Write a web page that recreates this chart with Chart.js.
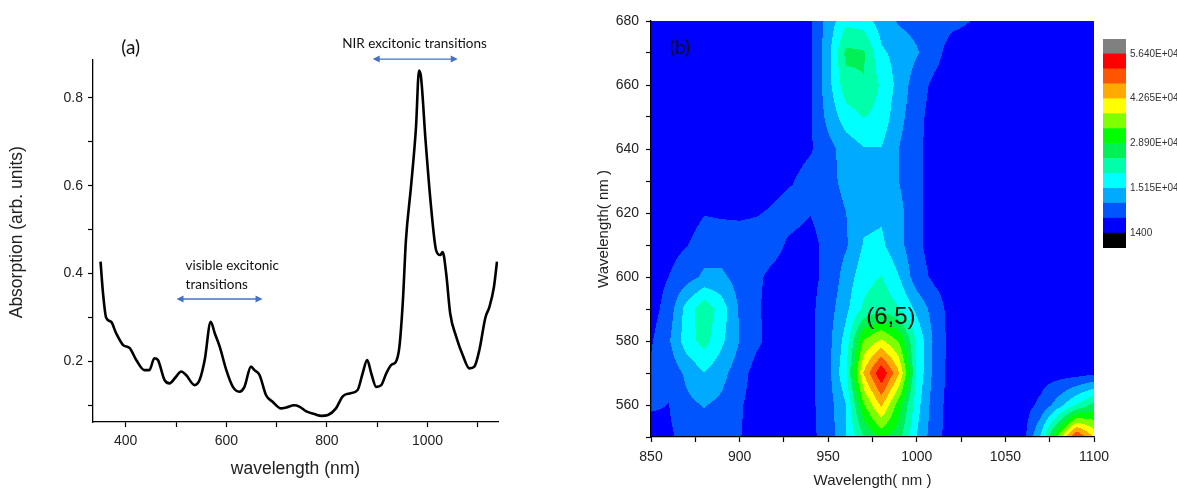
<!DOCTYPE html>
<html>
<head>
<meta charset="utf-8">
<script src="https://cdn.jsdelivr.net/npm/chart.js@4.4.1/dist/chart.umd.min.js"></script>
<style>
  html, body { margin: 0; padding: 0; background: #fff; }
  #wrap { position: relative; width: 1177px; height: 491px; overflow: hidden; }
  .box { position: absolute; top: 0; height: 491px; }
</style>
</head>
<body>
<div id="wrap">
  <div class="box" style="left:0;width:590px"><canvas id="absChart"></canvas></div>
  <div class="box" style="left:590px;width:587px"><canvas id="mapChart"></canvas></div>
  <div class="box" style="left:1100px;width:77px"><canvas id="barChart"></canvas></div>
</div>
<script>
// panel (a): absorption spectrum
const absWavelength = [350, 355, 361, 371, 381, 395, 408, 421, 437, 447, 457, 464, 477, 487, 500, 510, 520, 537, 547, 557,
  569, 577, 587, 600, 613, 626, 636, 649, 656, 666, 679, 692, 709, 719, 735, 745, 759, 775, 789, 802,
  818, 831, 845, 861, 871, 880, 888, 898, 908, 918, 928, 937, 944, 951, 957, 967, 977, 983, 987, 996,
  1007, 1017, 1025, 1030, 1037, 1045, 1057, 1070, 1083, 1093, 1103, 1115, 1123, 1132, 1138];
const absorbance = [0.427, 0.354, 0.300, 0.290, 0.264, 0.237, 0.230, 0.203, 0.180, 0.180, 0.207, 0.203, 0.158, 0.150, 0.165, 0.177, 0.169, 0.146, 0.158, 0.203,
  0.290, 0.264, 0.233, 0.180, 0.142, 0.131, 0.142, 0.188, 0.180, 0.169, 0.123, 0.108, 0.093, 0.095, 0.100, 0.097, 0.086, 0.080, 0.076, 0.078,
  0.093, 0.120, 0.127, 0.135, 0.173, 0.203, 0.173, 0.142, 0.146, 0.173, 0.192, 0.199, 0.233, 0.339, 0.476, 0.597, 0.733, 0.862, 0.847, 0.703,
  0.551, 0.453, 0.442, 0.449, 0.400, 0.309, 0.256, 0.214, 0.184, 0.188, 0.226, 0.300, 0.324, 0.370, 0.427];
const absXTicks = [400, 500, 600, 700, 800, 900, 1000, 1100];
const absYTicks = [0.1, 0.2, 0.3, 0.4, 0.5, 0.6, 0.7, 0.8];

// panel (b): PL map, emission along x, excitation along y
const emissionNm = [850, 860, 870, 880, 890, 900, 910, 920, 930, 940, 950, 960, 970, 980, 990, 1000, 1010, 1020, 1030, 1040, 1050, 1060, 1070, 1080, 1090, 1100];
const excitationNm = [680, 670, 660, 650, 640, 630, 620, 610, 600, 590, 580, 570, 560, 550];
// intensity in thousands of counts, one row per excitation wavelength
const intensityK = [
  [4, 4, 4, 4, 4, 4, 4, 4, 4, 5.5, 12.5, 18.5, 17.5, 13, 10, 9, 8, 7, 6, 4, 4, 4, 4, 4, 4, 4],
  [4, 4, 4, 4, 4, 4, 4, 4, 4, 5.3, 13.5, 25.5, 25, 16, 13.5, 11, 7.5, 4, 4, 4, 4, 4, 4, 4, 4, 4],
  [4, 4, 4, 4, 4, 4, 4, 4, 4, 5.5, 13.5, 22.5, 24, 19, 13.5, 8, 5, 4, 4, 4, 4, 4, 4, 4, 4, 4],
  [4, 4, 4, 4, 4, 4, 4, 4, 4, 5.5, 12, 17.5, 19.9, 18, 12, 7.5, 4, 4, 4, 4, 4, 4, 4, 4, 4, 4],
  [4, 4, 4, 4, 4, 4, 4, 4, 4, 5.5, 9, 12.5, 14.8, 15, 10.5, 7, 4, 4, 4, 4, 4, 4, 4, 4, 4, 4],
  [4, 4, 4, 4, 4, 4, 4, 5, 5.8, 8, 9.5, 11.5, 13.5, 14, 10.5, 7, 4, 4, 4, 4, 4, 4, 4, 4, 4, 4],
  [4, 4, 4, 5.8, 5.5, 5.5, 5.8, 6.5, 7.5, 6.2, 9, 10.5, 14, 14.5, 12, 7, 4, 4, 4, 4, 4, 4, 4, 4, 4, 4],
  [4, 4.5, 5.8, 8, 8, 7.5, 7.5, 7, 5, 4, 8, 10, 15.5, 16, 12, 7, 4, 4, 4, 4, 4, 4, 4, 4, 4, 4],
  [4, 6, 8.5, 11.5, 11.5, 8.5, 6.5, 5, 4, 5, 7, 12.5, 18, 20, 15.2, 8, 5, 4, 4, 4, 4, 4, 4, 4, 4, 4],
  [4, 8, 17, 23, 17.5, 10, 6.5, 4, 4, 5, 8.5, 14, 20.5, 23, 20, 14, 8.5, 4, 4, 4, 4, 4, 4, 4, 4, 4],
  [5.5, 10, 17.5, 21.5, 16, 10.5, 6.8, 4, 4, 5, 9, 17, 34, 39, 33, 19, 9.5, 4, 4, 4, 4, 4, 4, 4, 4, 4],
  [6.8, 7.5, 11.5, 15, 12, 8, 4, 4, 4, 5, 9, 19, 43, 56, 43, 19, 9, 4, 4, 4, 4, 4, 4, 4, 4, 5],
  [6.5, 5.9, 9.5, 10.8, 9.5, 6.5, 4, 4, 4, 5, 8.5, 15, 33, 43.5, 31, 17, 8, 4, 4, 4, 4, 4, 7, 13, 20, 26],
  [4, 5.2, 7.5, 8.5, 8, 6.2, 4, 4, 4, 5, 7.8, 15, 24, 30, 26, 15, 7.5, 4, 4, 4, 4, 4, 16, 35, 53, 42]
];
const mapXTicks = [850, 875, 900, 925, 950, 975, 1000, 1025, 1050, 1075, 1100];
const mapYTicks = [550, 560, 570, 580, 590, 600, 610, 620, 630, 640, 650, 660, 670, 680];

// contour levels and the colour of each band (lowest band first)
const contourLevels = [1400, 5983, 10567, 15150, 19733, 24317, 28900, 33483, 38067, 42650, 47233, 51817, 56400];
const bandColors = ['#000000', '#0000FF', '#0055FF', '#00AAFF', '#00FFFF', '#00FFAA', '#00F055',
  '#00FF00', '#80FF00', '#FFFF00', '#FFAA00', '#FF5500', '#FF0000', '#808080'];
const colorbarRange = [-3183, 60983];
const colorbarTicks = [1400, 15150, 28900, 42650, 56400];
const colorbarLabels = ['1400', '1.515E+04', '2.890E+04', '4.265E+04', '5.640E+04'];

Chart.defaults.font.family = '"Liberation Sans", Arial, sans-serif';
Chart.defaults.color = '#222';

const absNotes = [
  { text: '(a)', x: 410, y: 0.913, align: 'center', font: '19px Lato' },
  { text: 'NIR excitonic transitions', x: 974, y: 0.924, align: 'center', font: '13.5px Lato' },
  { text: 'visible excitonic', x: 519, y: 0.419, align: 'left', font: '13.5px Lato' },
  { text: 'transitions', x: 519, y: 0.374, align: 'left', font: '13.5px Lato' },
  { text: 'Absorption (arb. units)', x: 184, y: 0.494, align: 'center', font: '17.5px "Liberation Sans"', rotate: true }
];
const absArrows = [
  { from: 891, to: 1060, y: 0.888 },
  { from: 501, to: 672, y: 0.342 }
];
const mapNotes = [
  { text: '(b)', x: 866.4, y: 671.5, font: '19px Lato' },
  { text: '(6,5)', x: 985.4, y: 587.3, font: '24px "Liberation Sans"' }
];

const drawArrow = (ctx, x1, x2, y) => {
  const head = 7, half = 3.5;
  ctx.strokeStyle = '#4472C4';
  ctx.fillStyle = '#4472C4';
  ctx.lineWidth = 1.3;
  ctx.beginPath();
  ctx.moveTo(x1 + head - 1, y);
  ctx.lineTo(x2 - head + 1, y);
  ctx.stroke();
  ctx.beginPath();
  ctx.moveTo(x1, y); ctx.lineTo(x1 + head, y - half); ctx.lineTo(x1 + head, y + half); ctx.closePath();
  ctx.moveTo(x2, y); ctx.lineTo(x2 - head, y - half); ctx.lineTo(x2 - head, y + half); ctx.closePath();
  ctx.fill();
};

const notesPlugin = {
  id: 'notes',
  afterDatasetsDraw(chart, args, opts) {
    const { ctx, scales: { x, y } } = chart;
    ctx.save();
    ctx.textBaseline = 'middle';
    (opts.labels || []).forEach((l) => {
      ctx.save();
      ctx.fillStyle = l.rotate ? '#222' : '#111';
      ctx.font = l.font;
      ctx.textAlign = l.align || 'center';
      ctx.translate(x.getPixelForValue(l.x), y.getPixelForValue(l.y));
      if (l.rotate) ctx.rotate(-Math.PI / 2);
      ctx.fillText(l.text, 0, 0);
      ctx.restore();
    });
    (opts.arrows || []).forEach((a) => {
      drawArrow(ctx, x.getPixelForValue(a.from), x.getPixelForValue(a.to), y.getPixelForValue(a.y));
    });
    ctx.restore();
  }
};

const axisStyle = (size) => ({
  border: { color: '#000', width: 1.3 },
  grid: { drawOnChartArea: false, drawTicks: true, tickLength: 5, tickColor: '#000', tickWidth: 1.2 },
  ticks: { font: { size }, color: '#222', autoSkip: false, maxRotation: 0 }
});

// ---- chart (a)
const ax = axisStyle(14);
const ay = axisStyle(14);
new Chart(document.getElementById('absChart'), {
  type: 'line',
  data: {
    datasets: [{
      data: absWavelength.map((w, i) => ({ x: w, y: absorbance[i] })),
      borderColor: '#000',
      borderWidth: 2.6,
      pointRadius: 0,
      cubicInterpolationMode: 'monotone',
      fill: false
    }]
  },
  options: {
    animation: false,
    responsive: true,
    maintainAspectRatio: false,
    events: [],
    layout: { padding: { top: 60, right: 92, left: 0, bottom: 0 } },
    plugins: {
      legend: { display: false },
      tooltip: { enabled: false },
      notes: { labels: absNotes, arrows: absArrows }
    },
    scales: {
      x: {
        type: 'linear', min: 335, max: 1140,
        ...ax,
        ticks: { ...ax.ticks, padding: 6, callback: (v) => (v % 200 === 0 ? String(v) : '') },
        afterBuildTicks: (s) => { s.ticks = absXTicks.map((v) => ({ value: v })); },
        afterFit: (s) => { s.height = 69; },
        title: { display: true, text: 'wavelength (nm)', font: { size: 17.5 }, color: '#222', padding: { top: 0, bottom: 11 } }
      },
      y: {
        type: 'linear', min: 0.062, max: 0.886,
        ...ay,
        ticks: { ...ay.ticks, padding: 5, callback: (v) => (Math.round(v * 10) % 2 === 0 ? v.toFixed(1) : '') },
        afterBuildTicks: (s) => { s.ticks = absYTicks.map((v) => ({ value: v })); },
        afterFit: (s) => { s.width = 93; }
      }
    }
  },
  plugins: [notesPlugin]
});

// ---- chart (b): filled contour map
const rgbOf = (h) => [1, 3, 5].map((i) => parseInt(h.slice(i, i + 2), 16));
const bandRgb = bandColors.map(rgbOf);

const locate = (arr, v) => {
  const lo = Math.min(arr[0], arr[arr.length - 1]);
  const hi = Math.max(arr[0], arr[arr.length - 1]);
  const c = Math.min(hi, Math.max(lo, v));
  for (let i = 0; i < arr.length - 1; i += 1) {
    const a = arr[i], b = arr[i + 1];
    if ((c - a) * (c - b) <= 0) return [i, (c - a) / (b - a)];
  }
  return [arr.length - 2, 1];
};

const intensityAt = (wx, wy) => {
  const [c, tx] = locate(emissionNm, wx);
  const [r, ty] = locate(excitationNm, wy);
  const z00 = intensityK[r][c], z01 = intensityK[r][c + 1];
  const z10 = intensityK[r + 1][c], z11 = intensityK[r + 1][c + 1];
  const top = z00 + (z01 - z00) * tx;
  const bot = z10 + (z11 - z10) * tx;
  return (top + (bot - top) * ty) * 1000;
};

const bandOf = (v) => {
  let k = 0;
  while (k < contourLevels.length && v >= contourLevels[k]) k += 1;
  return k;
};

const contourPlugin = {
  id: 'contour',
  beforeDraw(chart) {
    const { ctx, chartArea: a, scales: { x, y } } = chart;
    const left = Math.round(a.left), top = Math.round(a.top);
    const w = Math.round(a.right) - left, h = Math.round(a.bottom) - top;
    const img = ctx.createImageData(w, h);
    for (let j = 0; j < h; j += 1) {
      const wy = y.getValueForPixel(top + j + 0.5);
      for (let i = 0; i < w; i += 1) {
        const wx = x.getValueForPixel(left + i + 0.5);
        const rgb = bandRgb[bandOf(intensityAt(wx, wy))];
        const p = (j * w + i) * 4;
        img.data[p] = rgb[0]; img.data[p + 1] = rgb[1]; img.data[p + 2] = rgb[2]; img.data[p + 3] = 255;
      }
    }
    ctx.putImageData(img, left, top);
  }
};

const gridNodes = [];
excitationNm.forEach((ey, r) => emissionNm.forEach((ex, c) => gridNodes.push({ x: ex, y: ey, v: intensityK[r][c] * 1000 })));

const bx = axisStyle(14);
const by = axisStyle(14);
new Chart(document.getElementById('mapChart'), {
  type: 'scatter',
  data: { datasets: [{ data: gridNodes, pointRadius: 0, showLine: false }] },
  options: {
    animation: false,
    responsive: true,
    maintainAspectRatio: false,
    events: [],
    layout: { padding: { top: 21, right: 83, left: 0, bottom: 0 } },
    plugins: {
      legend: { display: false },
      tooltip: { enabled: false },
      notes: { labels: mapNotes }
    },
    scales: {
      x: {
        type: 'linear', min: 850, max: 1100,
        ...bx,
        ticks: { ...bx.ticks, padding: 7, callback: (v) => (v % 50 === 0 ? String(v) : '') },
        afterBuildTicks: (s) => { s.ticks = mapXTicks.map((v) => ({ value: v })); },
        afterFit: (s) => { s.height = 54; },
        title: { display: true, text: 'Wavelength( nm )', font: { size: 15 }, color: '#222', padding: { top: 0, bottom: 1 } }
      },
      y: {
        type: 'linear', min: 550, max: 680,
        ...by,
        ticks: { ...by.ticks, padding: 7, callback: (v) => (v % 20 === 0 ? String(v) : '') },
        afterBuildTicks: (s) => { s.ticks = mapYTicks.map((v) => ({ value: v })); },
        afterFit: (s) => { s.width = 61; },
        title: { display: true, text: 'Wavelength( nm )', font: { size: 15 }, color: '#222', padding: { top: 5, bottom: 0 } }
      }
    }
  },
  plugins: [contourPlugin, notesPlugin]
});

// ---- colour scale
const bandSpans = bandColors.map((_, i) => [
  i === 0 ? colorbarRange[0] : contourLevels[i - 1],
  i === bandColors.length - 1 ? colorbarRange[1] : contourLevels[i]
]);
new Chart(document.getElementById('barChart'), {
  type: 'bar',
  data: {
    labels: [''],
    datasets: bandSpans.map((span, i) => ({
      data: [span],
      backgroundColor: bandColors[i],
      borderWidth: 0,
      grouped: false,
      barPercentage: 1,
      categoryPercentage: 1
    }))
  },
  options: {
    animation: false,
    responsive: true,
    maintainAspectRatio: false,
    events: [],
    layout: { padding: { top: 39, left: 3, right: 0, bottom: 243 } },
    plugins: { legend: { display: false }, tooltip: { enabled: false } },
    scales: {
      x: { display: false },
      y: {
        position: 'right',
        min: colorbarRange[0], max: colorbarRange[1],
        grid: { display: false, drawTicks: false, tickLength: 0 },
        border: { display: false },
        ticks: {
          padding: 4, color: '#333', font: { size: 10 },
          callback: (v) => colorbarLabels[colorbarTicks.indexOf(v)] || ''
        },
        afterBuildTicks: (s) => { s.ticks = colorbarTicks.map((v) => ({ value: v })); },
        afterFit: (s) => { s.width = 51; }
      }
    }
  }
});
</script>
</body>
</html>
